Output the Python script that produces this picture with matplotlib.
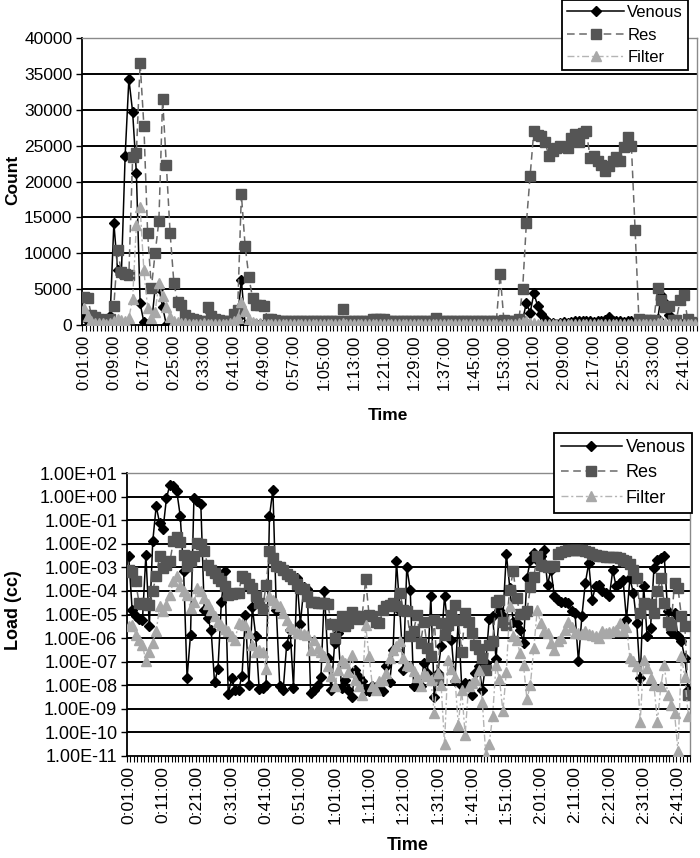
import matplotlib
matplotlib.use('Agg')
import matplotlib.pyplot as plt
import numpy as np
from matplotlib.ticker import FixedLocator, FuncFormatter, NullFormatter

plt.rcParams['font.family'] = ['Liberation Sans', 'DejaVu Sans']

# ---------------- data ----------------
minutes = list(range(1, 165))   # 0:01:00 ... 2:44:00
time_labels = [f"{m // 60}:{m % 60:02d}:00" for m in minutes]

venous_count = [
    1200, 600, 400, 300, 300, 400, 300, 1200, 14200, 7600,
    7100, 23500, 34300, 29700, 21200, 3000, 400, 200, 0, 5200,
    5200, 2500, 0, 0, 100, 100, 200, 100, 100, 200,
    100, 100, 200, 100, 100, 100, 200, 100, 100, 100,
    200, 1000, 6300, 0, 200, 100, 200, 100, 200, 100,
    200, 200, 100, 200, 200, 100, 200, 200, 100, 200,
    200, 200, 100, 200, 200, 200, 100, 200, 200, 200,
    200, 100, 200, 200, 200, 200, 100, 200, 200, 200,
    200, 200, 100, 200, 200, 200, 200, 100, 200, 200,
    200, 200, 200, 100, 200, 200, 200, 200, 100, 200,
    200, 200, 200, 200, 100, 200, 200, 300, 300, 200,
    300, 200, 200, 300, 200, 300, 200, 700, 3100, 1700,
    4400, 2700, 1600, 800, 300, 300, 200, 300, 400, 300,
    400, 500, 600, 500, 500, 600, 400, 500, 500, 700,
    1100, 500, 600, 500, 400, 500, 600, 300, 200, 300,
    300, 300, 400, 800, 4200, 3000, 1400, 400, 300, 300,
    300, 400, 300, 200]

res_count = [
    3900, 3800, 1400, 1100, 800, 700, 700, 800, 2700, 10400,
    7400, 7100, 7000, 23400, 24000, 36500, 27800, 12800, 5200, 10000,
    14500, 31500, 22300, 12800, 5900, 3200, 2800, 1400, 1000, 800,
    700, 600, 600, 2500, 1300, 800, 700, 600, 600, 600,
    1500, 2100, 18200, 11000, 6700, 3700, 2800, 2800, 2700, 900,
    800, 700, 600, 600, 500, 500, 500, 500, 500, 500,
    500, 500, 500, 500, 500, 500, 500, 500, 500, 2200,
    500, 500, 500, 500, 500, 500, 500, 800, 800, 800,
    800, 500, 500, 500, 500, 500, 500, 500, 500, 500,
    500, 500, 500, 500, 1000, 500, 500, 500, 500, 500,
    500, 500, 500, 500, 500, 500, 500, 500, 500, 500,
    600, 7100, 700, 500, 500, 500, 800, 5000, 14200, 20800,
    27100, 26500, 26300, 25500, 23500, 24200, 24600, 25000, 24800, 24600,
    26000, 26600, 25500, 26700, 27000, 23300, 23600, 22800, 22300, 21500,
    22200, 22800, 23400, 22800, 24800, 26200, 25000, 13200, 800, 700,
    700, 700, 700, 5200, 3500, 2500, 2600, 700, 700, 3500,
    4200, 800, 400, 300]

filter_count = [
    2300, 1200, 600, 300, 300, 300, 200, 300, 500, 900,
    700, 500, 1000, 3600, 14000, 16400, 7600, 2400, 1000, 1800,
    5800, 4000, 2500, 1100, 600, 400, 300, 300, 200, 200,
    200, 200, 300, 200, 200, 200, 200, 200, 200, 300,
    600, 1000, 3200, 1900, 800, 400, 300, 300, 200, 200,
    200, 200, 200, 200, 200, 200, 200, 200, 200, 200,
    200, 200, 200, 200, 200, 200, 200, 200, 200, 300,
    200, 200, 200, 200, 200, 200, 200, 200, 200, 200,
    200, 200, 200, 200, 200, 200, 200, 200, 200, 200,
    200, 200, 200, 200, 200, 200, 200, 200, 200, 200,
    200, 200, 200, 200, 200, 200, 200, 200, 200, 200,
    200, 0, 200, 200, 200, 200, 300, 400, 500, 300,
    300, 200, 200, 200, 200, 200, 200, 200, 200, 200,
    200, 200, 200, 200, 200, 200, 200, 200, 200, 200,
    200, 200, 200, 200, 200, 200, 200, 200, 200, 200,
    200, 200, 200, 300, 400, 300, 200, 200, 200, 200,
    200, 200, 200, 200]

# Load (cc), stored as log10 exponents
venous_load_exp = [
    -2.54, -4.8, -5.08, -5.2, -5.25, -2.47, -5.5, -1.9, -0.41, -1.12,
    -1.38, -0.06, 0.5, 0.43, 0.22, -0.81, -3.17, -7.7, -5.86, -0.06,
    -0.2, -0.3, -4.8, -5.15, -5.65, -7.88, -7.3, -4.45, -3.17, -8.38,
    -7.7, -8.2, -8.2, -7.6, -5.0, -8.0, -4.69, -5.9, -8.17, -8.1,
    -8.0, -0.84, 0.3, -4.8, -8.05, -8.2, -6.3, -5.65, -8.1, -3.46,
    -5.4, -3.85, -3.9, -8.33, -8.22, -8.0, -7.63, -4.02, -6.85, -8.19,
    -6.2, -5.8, -8.12, -7.77, -8.19, -8.48, -7.35, -7.63, -7.84, -8.19,
    -8.26, -8.05, -8.08, -8.2, -8.26, -7.2, -7.88, -6.52, -2.75, -4.87,
    -7.35, -2.99, -3.95, -8.05, -7.98, -8.05, -7.06, -7.5, -4.23, -8.48,
    -7.49, -6.35, -4.2, -5.58, -6.07, -7.84, -5.22, -8.05, -7.91, -7.95,
    -8.41, -7.49, -7.2, -8.19, -7.06, -5.2, -5.08, -6.9, -4.8, -5.08,
    -2.42, -3.88, -5.3, -5.37, -5.65, -6.21, -3.46, -2.68, -2.39, -2.68,
    -2.5, -2.28, -3.74, -3.1, -4.23, -4.37, -4.45, -4.45, -4.52, -4.87,
    -4.94, -6.99, -5.08, -3.67, -2.82, -4.37, -3.81, -3.74, -4.02, -4.09,
    -4.23, -3.13, -3.81, -3.67, -3.53, -5.22, -3.46, -4.09, -5.37, -7.7,
    -3.78, -5.93, -5.58, -3.03, -2.7, -2.6, -2.54, -4.87, -5.76, -4.94,
    -5.93, -6.14, -6.85, -8.19]

res_load_exp = [
    -3.1, -3.2, -3.6, -4.5, -4.55, -4.52, -4.6, -4.0, -3.36, -2.54,
    -3.03, -2.9, -2.75, -1.9, -1.72, -1.94, -2.47, -2.96, -2.75, -2.54,
    -1.97, -2.0, -2.32, -2.89, -3.1, -3.24, -3.45, -3.6, -3.78, -4.16,
    -4.12, -4.09, -4.1, -3.36, -3.45, -3.7, -3.88, -4.2, -4.52, -4.77,
    -3.74, -2.32, -2.6, -2.93, -3.0, -3.1, -3.3, -3.38, -3.5, -3.7,
    -3.88, -3.92, -4.2, -4.45, -4.45, -4.52, -4.5, -4.52, -4.55, -5.4,
    -6.0, -5.44, -5.08, -5.48, -5.34, -4.91, -5.08, -5.2, -5.08, -3.5,
    -5.0, -5.08, -5.3, -5.37, -4.83, -4.66, -4.6, -4.52, -4.66, -4.09,
    -4.8, -4.87, -5.93, -5.68, -5.0, -6.21, -5.3, -6.43, -6.78, -5.22,
    -7.7, -5.37, -5.86, -5.44, -5.0, -4.59, -5.22, -6.57, -4.94, -5.3,
    -5.79, -6.28, -6.47, -6.85, -7.35, -6.28, -6.14, -4.49, -4.4, -5.3,
    -5.44, -3.95, -3.17, -4.3, -4.97, -4.97, -4.87, -3.84, -3.39, -2.54,
    -2.89, -2.96, -2.99, -2.93, -2.93, -2.42, -2.35, -2.32, -2.28, -2.26,
    -2.25, -2.26, -2.28, -2.32, -2.37, -2.42, -2.46, -2.51, -2.54, -2.55,
    -2.56, -2.56, -2.58, -2.6, -2.68, -2.75, -2.85, -3.1, -3.46, -4.94,
    -4.52, -4.55, -4.55, -4.94, -4.02, -3.46, -4.52, -5.3, -5.44, -3.67,
    -3.88, -5.08, -5.5, -8.41]

filter_load_exp = [
    -5.5, -5.44, -5.86, -6.1, -6.28, -6.99, -6.57, -6.2, -5.72, -4.66,
    -4.87, -4.59, -4.16, -3.6, -3.38, -3.78, -4.0, -4.16, -4.73, -4.49,
    -3.88, -4.02, -4.3, -4.55, -4.8, -5.08, -5.3, -5.44, -5.6, -5.72,
    -5.93, -6.07, -5.37, -5.4, -5.44, -5.79, -6.28, -6.57, -6.5, -6.6,
    -7.32, -4.23, -4.37, -4.5, -4.66, -4.94, -5.22, -5.48, -5.6, -5.79,
    -5.79, -5.82, -5.86, -6.52, -6.07, -6.43, -6.57, -6.78, -7.2, -7.6,
    -8.05, -7.35, -6.92, -7.06, -7.42, -6.71, -7.77, -8.05, -8.41, -5.44,
    -6.75, -8.05, -8.19, -7.84, -7.77, -7.49, -6.85, -6.5, -6.35, -6.14,
    -6.85, -7.13, -7.2, -7.4, -7.63, -8.05, -7.49, -7.6, -7.77, -9.18,
    -7.49, -8.0, -10.5, -6.92, -7.3, -7.63, -9.68, -8.19, -10.1, -8.05,
    -7.9, -7.77, -7.35, -8.69, -10.95, -10.5, -9.3, -7.13, -7.74, -9.11,
    -7.42, -4.66, -5.93, -6.07, -6.64, -7.13, -8.59, -7.98, -6.43, -4.8,
    -5.37, -5.72, -5.79, -6.21, -6.5, -6.14, -6.0, -5.65, -5.3, -5.51,
    -5.79, -5.79, -5.82, -5.72, -5.82, -5.86, -5.9, -6.0, -5.72, -5.79,
    -5.75, -5.72, -5.65, -5.37, -5.72, -5.51, -6.85, -6.99, -7.2, -9.54,
    -6.92, -7.27, -7.7, -8.0, -9.54, -8.05, -7.13, -8.41, -8.83, -9.18,
    -10.8, -6.78, -7.66, -9.3]

count_ticks = [0, 5000, 10000, 15000, 20000, 25000, 30000, 35000, 40000]
load_ticks = [1e-11, 1e-10, 1e-9, 1e-8, 1e-7, 1e-6, 1e-5, 1e-4, 1e-3, 1e-2, 1e-1, 1e0, 1e1]

# ---------------- styles ----------------
VEN = dict(color='black', ls='-', lw=1.1, marker='D', ms=5, mfc='black', mec='black')
RES = dict(color='#6a6a6a', ls=(0, (5, 3)), lw=1.1, marker='s', ms=6.5, mfc='#555555', mec='#555555')
FIL = dict(color='#b4b4b4', ls=(0, (5, 2, 1.5, 2)), lw=1.0, marker='^', ms=6.5, mfc='#a8a8a8', mec='#a8a8a8')

W, H = 700, 858
fig = plt.figure(figsize=(W / 100, H / 100), dpi=100)
n = len(minutes)
x = np.arange(n)


def style_axes(ax, label_step, label_size):
    ax.set_xlim(-0.5, n - 0.5)
    ax.xaxis.set_major_locator(FixedLocator(list(range(0, n, label_step))))
    ax.set_xticklabels([time_labels[i] for i in range(0, n, label_step)],
                       rotation=90, fontsize=label_size)
    ax.xaxis.set_minor_locator(FixedLocator(list(np.arange(-0.5, n, 1.0))))
    ax.xaxis.set_minor_formatter(NullFormatter())
    ax.tick_params(axis='x', which='major', length=0, pad=7)
    ax.tick_params(axis='x', which='minor', length=4, width=0.8, direction='out', color='black')
    for s in ['top', 'right']:
        ax.spines[s].set_color('#8a8a8a')
        ax.spines[s].set_linewidth(1.0)
    for s in ['left', 'bottom']:
        ax.spines[s].set_color('black')
        ax.spines[s].set_linewidth(1.3)


# ---------------- top chart ----------------
ax1 = fig.add_axes([82 / W, 1 - 325 / H, 615 / W, 287 / H])
for yv in count_ticks[1:-1]:
    ax1.axhline(yv, color='black', lw=1.4, zorder=1)
l1, = ax1.plot(x, venous_count, label='Venous', zorder=3, **VEN)
l2, = ax1.plot(x, res_count, label='Res', zorder=4, **RES)
l3, = ax1.plot(x, filter_count, label='Filter', zorder=5, **FIL)
ax1.set_ylim(0, 40000)
ax1.set_yticks(count_ticks)
ax1.set_yticklabels([str(v) for v in count_ticks], fontsize=12.5)
ax1.tick_params(axis='y', length=4, width=1, direction='out', pad=3)
style_axes(ax1, 8, 12)
leg1 = ax1.legend(handles=[l1, l2, l3], loc='upper right',
                  bbox_to_anchor=(688 / W, 1.0), bbox_transform=fig.transFigure,
                  fancybox=False, edgecolor='black', framealpha=1, fontsize=12,
                  handlelength=3.4, handletextpad=0.2, borderpad=0.3, labelspacing=0.45,
                  borderaxespad=0)
leg1.get_frame().set_linewidth(1.3)
fig.text(13 / W, 1 - 180 / H, 'Count', rotation=90, ha='center', va='center',
         fontsize=12.5, fontweight='bold')
fig.text(388 / W, 1 - 415 / H, 'Time', ha='center', va='center',
         fontsize=12.5, fontweight='bold')

# ---------------- bottom chart ----------------
ax2 = fig.add_axes([127 / W, 1 - 756 / H, 563 / W, 283 / H])
for yv in load_ticks[1:-1]:
    ax2.axhline(yv, color='black', lw=1.4, zorder=1)
m1, = ax2.plot(x, [10 ** e for e in venous_load_exp], label='Venous', zorder=3, **VEN)
m2, = ax2.plot(x, [10 ** e for e in res_load_exp], label='Res', zorder=4, **RES)
m3, = ax2.plot(x, [10 ** e for e in filter_load_exp], label='Filter', zorder=5, **FIL)
ax2.set_yscale('log')
ax2.set_ylim(1e-11, 1e1)
ax2.yaxis.set_major_locator(FixedLocator(load_ticks))
ax2.yaxis.set_major_formatter(FuncFormatter(lambda v, p: f"{v:.2E}"))
ax2.yaxis.set_minor_locator(FixedLocator([]))
ax2.tick_params(axis='y', length=4, width=1, direction='out', pad=3, labelsize=13)
style_axes(ax2, 10, 12.5)
leg2 = ax2.legend(handles=[m1, m2, m3], loc='upper right',
                  bbox_to_anchor=(692 / W, 1 - 433 / H), bbox_transform=fig.transFigure,
                  fancybox=False, edgecolor='black', framealpha=1, fontsize=13,
                  handlelength=3.4, handletextpad=0.2, borderpad=0.35, labelspacing=0.45,
                  borderaxespad=0)
leg2.get_frame().set_linewidth(1.3)
fig.text(13 / W, 1 - 610 / H, 'Load (cc)', rotation=90, ha='center', va='center',
         fontsize=13, fontweight='bold')
fig.text(408 / W, 1 - 845 / H, 'Time', ha='center', va='center',
         fontsize=13, fontweight='bold')

fig.savefig('out.png', dpi=100)
